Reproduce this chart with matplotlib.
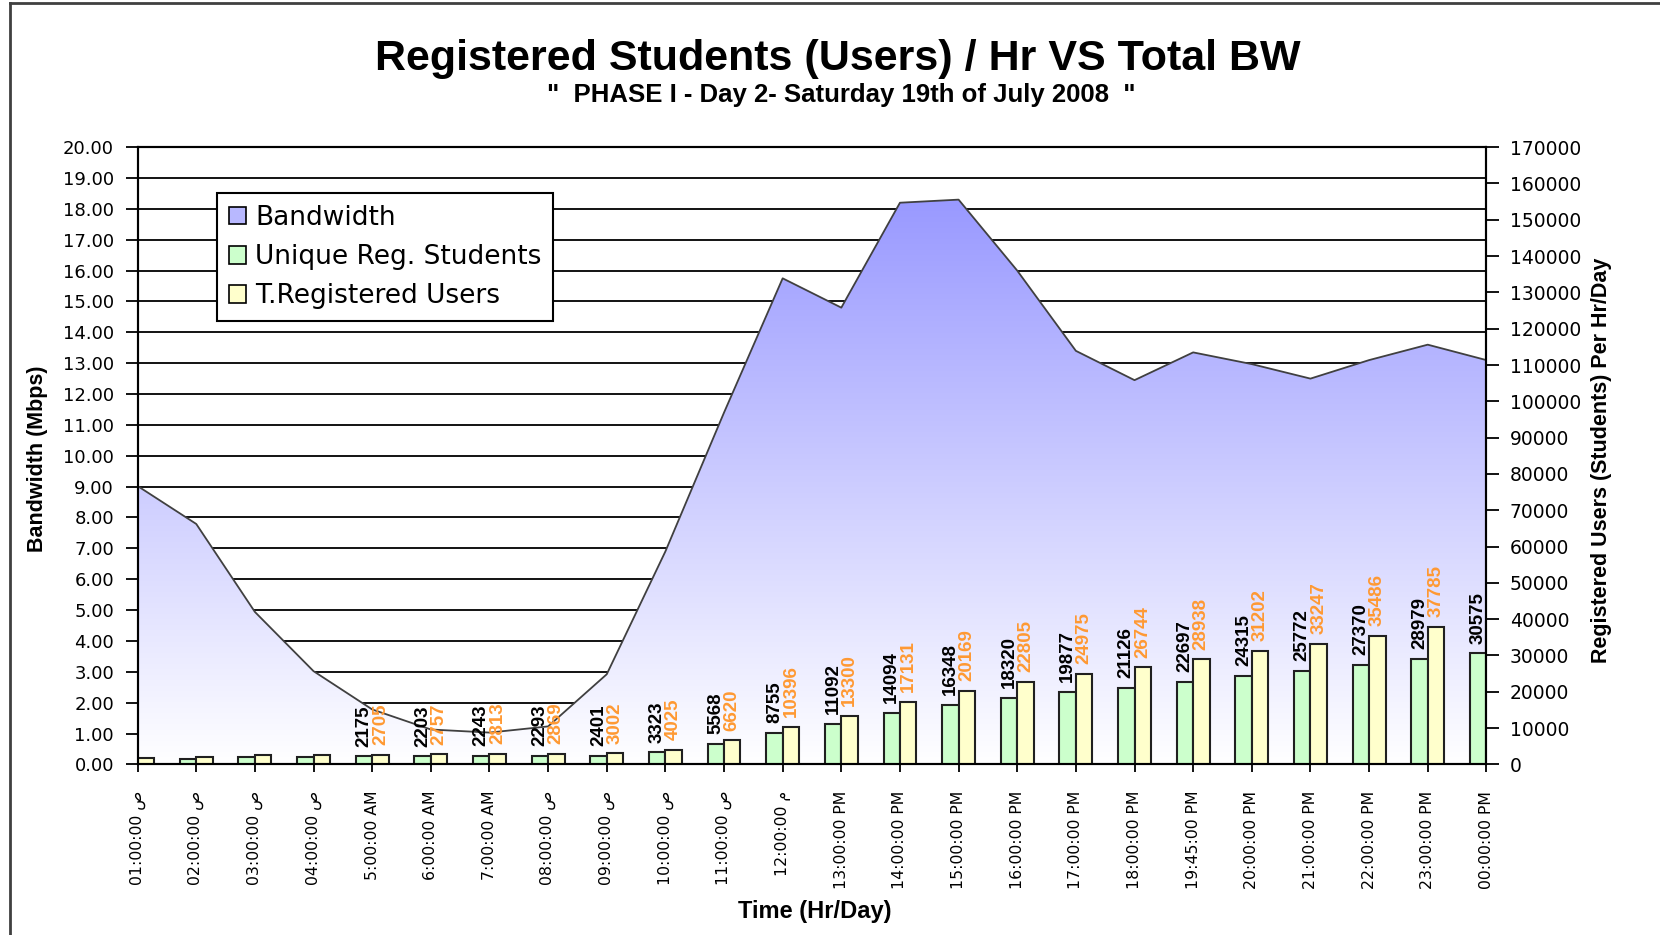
import numpy as np
import matplotlib
matplotlib.use('Agg')
import matplotlib.pyplot as plt
from matplotlib.colors import LinearSegmentedColormap
from matplotlib.patches import Patch
from matplotlib.lines import Line2D

hours = ['01:00:00 ص', '02:00:00 ص', '03:00:00 ص', '04:00:00 ص',
         '5:00:00 AM', '6:00:00 AM', '7:00:00 AM', '08:00:00 ص',
         '09:00:00 ص', '10:00:00 ص', '11:00:00 ص', '12:00:00 م',
         '13:00:00 PM', '14:00:00 PM', '15:00:00 PM', '16:00:00 PM',
         '17:00:00 PM', '18:00:00 PM', '19:45:00 PM', '20:00:00 PM',
         '21:00:00 PM', '22:00:00 PM', '23:00:00 PM', '00:00:00 PM']

bandwidth = [9.02, 7.79, 4.94, 3.02, 1.78, 1.13, 1.03, 1.23, 2.92, 6.9,
             11.4, 15.75, 14.8, 18.2, 18.3, 16.0, 13.4, 12.45, 13.35, 12.97,
             12.5, 13.1, 13.6, 13.1]

unique_students = [1400, 1500, 2100, 2150, 2175, 2203, 2243, 2293, 2401, 3323,
                   5568, 8755, 11092, 14094, 16348, 18320, 19877, 21126, 22697,
                   24315, 25772, 27370, 28979, 30575]

total_users = [1700, 2150, 2650, 2700, 2705, 2757, 2813, 2869, 3002, 4025,
               6620, 10396, 13300, 17131, 20169, 22805, 24975, 26744, 28938,
               31202, 33247, 35486, 37785, 39300]

first_labelled = 4  # no value labels on the first four hours

fig = plt.figure(figsize=(16.6, 9.35), dpi=100)
ax = fig.add_axes([0.0829, 0.1825, 0.8125, 0.6601])
x = np.arange(len(hours))

# bandwidth area with vertical gradient
poly = ax.fill_between(x, bandwidth, 0, facecolor='none', edgecolor='none')
grad = np.linspace(0, 1, 256).reshape(-1, 1)
cmap = LinearSegmentedColormap.from_list('bw', ['white', '#9999FF'])
img = ax.imshow(grad, cmap=cmap, origin='lower', aspect='auto',
                extent=[0, len(hours) - 1, 0, max(bandwidth)], zorder=2)
img.set_clip_path(poly.get_paths()[0], transform=ax.transData)
ax.plot(x, bandwidth, color='#404040', lw=1.3, zorder=3)

ax.set_xlim(0, len(hours) - 1)
ax.set_ylim(0, 20)
ax.set_yticks(np.arange(0, 21, 1))
ax.set_yticklabels(['%.2f' % v for v in np.arange(0, 21, 1)],
                   fontsize=13, family='DejaVu Sans')
ax.set_xticks(x)
ax.set_xticklabels(hours, rotation=90, fontsize=11.3, family='DejaVu Sans')
ax.yaxis.grid(True, color='black', lw=1.3)
ax.set_axisbelow(True)
ax.tick_params(axis='y', direction='out', length=9, width=1.3, pad=8)
ax.tick_params(axis='x', direction='out', length=6, width=1.3, pad=13)
for s in ax.spines.values():
    s.set_linewidth(1.5)

# registered users bars on secondary axis
ax2 = ax.twinx()
w = 0.28
ax2.bar(x - w / 2, unique_students, w, color='#CCFFCC', edgecolor='#202020', lw=1.5)
ax2.bar(x + w / 2, total_users, w, color='#FFFFCC', edgecolor='#202020', lw=1.5)
ax2.set_xlim(0, len(hours) - 1)
ax2.set_ylim(0, 170000)
ax2.set_yticks(np.arange(0, 170001, 10000))
ax2.set_yticklabels([str(v) for v in range(0, 170001, 10000)],
                    fontsize=13.5, family='DejaVu Sans')
ax2.tick_params(axis='y', direction='out', length=9, width=1.3, pad=8)
for s in ax2.spines.values():
    s.set_linewidth(1.5)

for i in range(first_labelled, len(hours)):
    if i - w / 2 > 0:
        ax2.annotate(str(unique_students[i]), (i - w / 2, unique_students[i]),
                     xytext=(0, 7), textcoords='offset points', rotation=90,
                     ha='center', va='bottom', fontsize=13.5, fontweight='bold',
                     family='Liberation Sans', color='black')
    if i + w / 2 < len(hours) - 1:
        ax2.annotate(str(total_users[i]), (i + w / 2, total_users[i]),
                     xytext=(0, 7), textcoords='offset points', rotation=90,
                     ha='center', va='bottom', fontsize=13.5, fontweight='bold',
                     family='Liberation Sans', color='#FF9933')

handles = [Patch(facecolor='#B8B8FF', edgecolor='black', lw=1.2),
           Patch(facecolor='#CCFFCC', edgecolor='black', lw=1.2),
           Patch(facecolor='#FFFFCC', edgecolor='black', lw=1.2)]
leg = ax2.legend(handles, ['Bandwidth', 'Unique Reg. Students', 'T.Registered Users'],
                 loc='upper left', bbox_to_anchor=(0.1307, 0.7935),
                 bbox_transform=fig.transFigure, borderaxespad=0,
                 fancybox=False, framealpha=1, edgecolor='black',
                 prop={'family': 'DejaVu Sans', 'size': 19},
                 handlelength=0.65, handleheight=0.65, handletextpad=0.35,
                 labelspacing=0.5, borderpad=0.45)
leg.get_frame().set_linewidth(1.5)

fig.text(0.505, 0.937, 'Registered Students (Users) / Hr VS Total BW',
         ha='center', va='center', fontsize=31, fontweight='bold',
         family='Liberation Sans')
fig.text(0.507, 0.898, '"  PHASE I - Day 2- Saturday 19th of July 2008  "',
         ha='center', va='center', fontsize=18.5, fontweight='bold',
         family='Liberation Sans')
fig.text(0.0223, 0.509, 'Bandwidth (Mbps)', rotation=90, ha='center', va='center',
         fontsize=15.5, fontweight='bold', family='Liberation Sans')
fig.text(0.9645, 0.5075, 'Registered Users (Students) Per Hr/Day', rotation=90,
         ha='center', va='center', fontsize=15.5, fontweight='bold',
         family='Liberation Sans')
fig.text(0.491, 0.025, 'Time (Hr/Day)', ha='center', va='center',
         fontsize=17, fontweight='bold', family='Liberation Sans')

# outer chart border (top and left edges visible)
fig.add_artist(Line2D([10 / 1660, 10 / 1660], [0, 1 - 3 / 935], color='#404040', lw=2))
fig.add_artist(Line2D([10 / 1660, 1], [1 - 3 / 935, 1 - 3 / 935], color='#404040', lw=2))

fig.savefig('out.png', dpi=100)
